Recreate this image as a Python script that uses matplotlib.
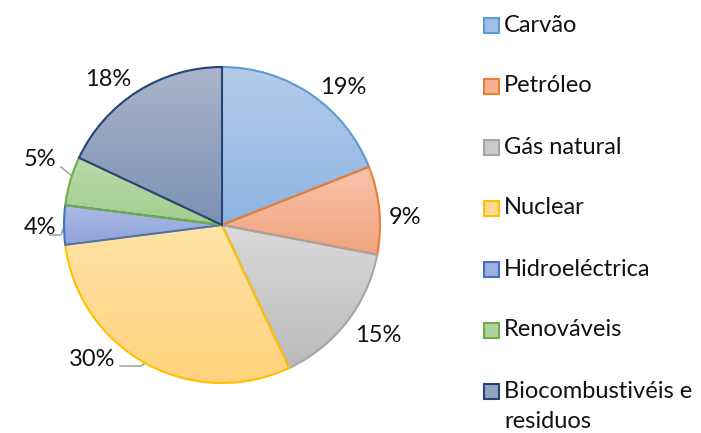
import numpy as np
import matplotlib
matplotlib.use('Agg')
import matplotlib.pyplot as plt
from matplotlib.colors import LinearSegmentedColormap, to_rgb
from matplotlib.patches import Rectangle

plt.rcParams['font.family'] = ['Lato', 'DejaVu Sans']

# dados
categorias = ['Carvão', 'Petróleo', 'Gás natural', 'Nuclear', 'Hidroeléctrica',
              'Renováveis', 'Biocombustivéis e\nresiduos']
valores = [19, 9, 15, 30, 4, 5, 18]
rotulos = ['19%', '9%', '15%', '30%', '4%', '5%', '18%']

# cores: topo, base (gradiente) e contorno
cor_topo = ['#b5cce9', '#f7c4ab', '#dadada', '#ffe3a6', '#adbbe6', '#bbdaae', '#a9b5cb']
cor_base = ['#8db3e2', '#f2a27d', '#bababa', '#ffd27c', '#8ea2da', '#a2cd8c', '#7b91b3']
cor_borda = ['#5b9bd5', '#ed7d31', '#a5a5a5', '#ffc000', '#4472c4', '#70ad47', '#264478']

W, H = 701, 433
fig = plt.figure(figsize=(W / 100, H / 100), dpi=100)
ax = fig.add_axes([0, 0, 1, 1])

cx, cy, r = 222, H - 225, 158
wedges, _ = ax.pie(valores, startangle=90, counterclock=False, center=(cx, cy), radius=r,
                   wedgeprops=dict(linewidth=1.5))

# preenchimento em gradiente (claro em cima, escuro em baixo)
grad = np.linspace(0, 1, 256).reshape(-1, 1)
for w, ct, cb, ce in zip(wedges, cor_topo, cor_base, cor_borda):
    bb = w.get_path().get_extents()
    cmap = LinearSegmentedColormap.from_list('g', [cb, ct])
    im = ax.imshow(grad, extent=[bb.x0, bb.x1, bb.y0, bb.y1], origin='lower',
                   cmap=cmap, aspect='auto', zorder=1)
    im.set_clip_path(w)
    w.set_facecolor('none')
    w.set_edgecolor(ce)
    w.set_zorder(2)

# rotulos de percentagem (posicoes em pixeis)
pos_rot = [(343, 87), (405, 217), (378, 336), (92, 360), (40, 228), (40, 160), (108, 80)]
for txt, (x, y) in zip(rotulos, pos_rot):
    ax.text(x, H - y, txt, fontsize=17, ha='center', va='center', color='#111111')

# linhas de chamada
linhas = [[(120, 366), (141, 366), (148, 361)],
          [(50, 235), (61, 235), (65, 224)],
          [(61, 167), (72, 176)]]
for ln in linhas:
    xs = [p[0] for p in ln]
    ys = [H - p[1] for p in ln]
    ax.plot(xs, ys, color='#a6a6a6', lw=1.2, zorder=0)

# legenda manual
y0, passo = 25, 61
for i, (lab, ct, cb, ce) in enumerate(zip(categorias, cor_topo, cor_base, cor_borda)):
    yc = H - (y0 + i * passo)
    fc = 0.5 * np.array(to_rgb(ct)) + 0.5 * np.array(to_rgb(cb))
    ax.add_patch(Rectangle((484, yc - 7.5), 15, 15, facecolor=fc, edgecolor=ce, lw=1.5))
    for j, parte in enumerate(lab.split('\n')):
        ax.text(504, yc - j * 31, parte, fontsize=17, ha='left', va='center', color='#111111')

ax.set_xlim(0, W)
ax.set_ylim(0, H)
ax.set_aspect('auto')
ax.axis('off')

plt.savefig('out.png', dpi=100)
